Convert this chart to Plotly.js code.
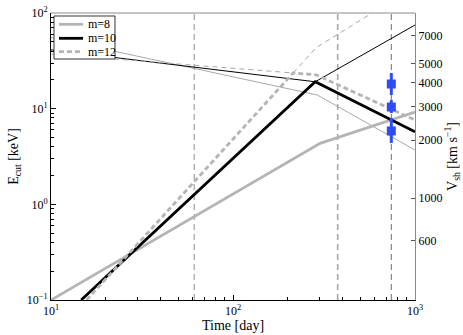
<!DOCTYPE html>
<html><head><meta charset="utf-8">
<script src="https://cdn.plot.ly/plotly-3.0.1.min.js"></script>
<style>html,body{margin:0;padding:0;background:#fff}</style>
</head><body><div id="chart" style="width:463px;height:335px"></div>
<script>
// ---- data ----
const legendNames = ["m=8", "m=10", "m=12"];
// thick curves
const m8ThickDays = [10, 301, 1000];
const m8ThickE = [0.1, 4.34, 9.23];
const m10ThickDays = [14.65, 283, 1000];
const m10ThickE = [0.1, 19.1, 5.74];
const m12ThickDays = [15.7, 214, 286, 1000];
const m12ThickE = [0.1, 23.6, 22.6, 7.61];
// thin curves
const m8ThinDays = [10, 290, 1000];
const m8ThinE = [55.4, 13.9, 3.70];
const m10ThinDays = [10, 283, 1000];
const m10ThinE = [41.2, 19.1, 74.9];
const m12ThinDays = [10, 214, 286, 581];
const m12ThinE = [37.3, 23.6, 43.3, 100];
// vertical dashed epochs
const epochDays = [61.2, 376, 741];
// observed points
const obsDay = 741;
const obsE = [18.1, 10.4, 5.85];
const obsErrUp = [5.5, 1.9, 2.15];
const obsErrDown = [4.2, 1.4, 1.47];
// axis ticks
const xTickVals = [10, 100, 1000];
const xTickText = ["10<sup>1</sup>", "10<sup>2</sup>", "10<sup>3</sup>"];
const yTickVals = [0.1, 1, 10, 100];
const yTickText = ["10<sup>\u22121</sup>", "10<sup>0</sup>", "10<sup>1</sup>", "10<sup>2</sup>"];
const vshTickVals = [600, 1000, 2000, 3000, 4000, 5000, 7000];
const vshRange = [294.3, 9194];

const serif = "'Liberation Serif', 'Times New Roman', Times, serif";
const gray = "#b4b4b4";
const thickStyles = [
  {color: gray, width: 2.8},
  {color: "#000", width: 2.8},
  {color: gray, width: 2.8, dash: "5px,3px"}
];

function minors(lo, hi) {
  const out = [];
  for (let d = lo; d < hi; d *= 10) for (let k = 2; k <= 9; k++) out.push(d * k);
  return out;
}

const traces = [];
// vertical epoch lines
const vColors = ["#8c8c8c", "#a8a8a8", "#707070"];
const vWidths = [1, 1.6, 1];
epochDays.forEach((d, i) => {
  traces.push({x: [d, d], y: [0.1, 100], mode: "lines", showlegend: false, hoverinfo: "skip",
    line: {color: vColors[i], width: vWidths[i], dash: "6px,4px"}});
});
// thin lines
traces.push({x: m8ThinDays, y: m8ThinE, mode: "lines", showlegend: false,
  line: {color: "#a8a8a8", width: 1}});
traces.push({x: m10ThinDays, y: m10ThinE, mode: "lines", showlegend: false,
  line: {color: "#000", width: 1}});
traces.push({x: m12ThinDays, y: m12ThinE, mode: "lines", showlegend: false,
  line: {color: "#a8a8a8", width: 1, dash: "5px,4px"}});
// thick lines
traces.push({x: m8ThickDays, y: m8ThickE, mode: "lines", name: legendNames[0], showlegend: false,
  line: thickStyles[0]});
traces.push({x: m10ThickDays, y: m10ThickE, mode: "lines", name: legendNames[1], showlegend: false,
  line: thickStyles[1]});
traces.push({x: m12ThickDays, y: m12ThickE, mode: "lines", name: legendNames[2], showlegend: false,
  line: thickStyles[2]});
// observations
traces.push({x: [obsDay, obsDay, obsDay], y: obsE, mode: "markers", showlegend: false,
  marker: {symbol: "square", size: 9, color: "#2f4cf5"},
  error_y: {type: "data", symmetric: false, array: obsErrUp, arrayminus: obsErrDown,
    color: "#2f4cf5", thickness: 3, width: 0}});
// invisible trace to carry the right axis
traces.push({x: [xTickVals[0], xTickVals[2]], y: [vshTickVals[0], vshTickVals[6]], yaxis: "y2",
  mode: "lines", line: {width: 0, color: "rgba(0,0,0,0)"}, showlegend: false, hoverinfo: "skip"});

// compact legend drawn in paper coordinates
const shapes = [{type: "line", xref: "x domain", yref: "y domain", x0: 0, x1: 1, y0: 1, y1: 1,
  line: {color: "#8c8c8c", width: 1}},
  {type: "rect", xref: "paper", yref: "paper", x0: 0.0082, x1: 0.1758, y0: 0.8397, y1: 0.9896,
   fillcolor: "#fff", line: {color: "#333", width: 1}, layer: "above"}];
const annotations = [];
const legRowY = [0.9606, 0.9118, 0.8652];
legendNames.forEach((n, i) => {
  shapes.push({type: "line", xref: "paper", yref: "paper", x0: 0.022, x1: 0.088,
    y0: legRowY[i], y1: legRowY[i], line: thickStyles[i], layer: "above"});
  annotations.push({xref: "paper", yref: "paper", x: 0.097, y: legRowY[i], xanchor: "left",
    yanchor: "middle", text: n, showarrow: false, font: {family: serif, size: 12}});
});

const layout = {
  width: 463, height: 335,
  margin: {l: 51, r: 48, t: 13, b: 35},
  paper_bgcolor: "#fff", plot_bgcolor: "#fff",
  font: {family: serif, size: 12, color: "#000"},
  showlegend: false,
  xaxis: {type: "log", range: [1, 3], showgrid: false, zeroline: false,
    showline: true, linecolor: "#000", linewidth: 1,
    tickmode: "array", tickvals: xTickVals, ticktext: xTickText,
    ticks: "inside", ticklen: 5, tickcolor: "#000",
    minor: {tickmode: "array", tickvals: minors(10, 1000), ticks: "inside", ticklen: 3, tickcolor: "#000"},
    tickfont: {family: serif, size: 12},
    title: {text: "Time [day]", font: {family: serif, size: 14}, standoff: 0}},
  yaxis: {type: "log", range: [-1, 2], showgrid: false, zeroline: false,
    showline: true, linecolor: "#000", linewidth: 1,
    tickmode: "array", tickvals: yTickVals, ticktext: yTickText,
    ticks: "inside", ticklen: 5, tickcolor: "#000",
    minor: {tickmode: "array", tickvals: minors(0.1, 100), ticks: "inside", ticklen: 3, tickcolor: "#000"},
    tickfont: {family: serif, size: 12},
    title: {text: "E<sub>cut</sub> [keV]", font: {family: serif, size: 14}, standoff: 4}},
  yaxis2: {type: "log", overlaying: "y", side: "right",
    range: [Math.log10(vshRange[0]), Math.log10(vshRange[1])],
    showgrid: false, zeroline: false, showline: true, linecolor: "#8c8c8c", linewidth: 1,
    tickmode: "array", tickvals: vshTickVals, ticktext: vshTickVals.map(String),
    ticks: "inside", ticklen: 4, tickcolor: "#555",
    tickfont: {family: serif, size: 12},
    title: {text: "V<sub>sh</sub> [km s<sup>\u22121</sup>]", font: {family: serif, size: 14}, standoff: 4}},
  shapes: shapes,
  annotations: annotations
};

Plotly.newPlot("chart", traces, layout, {staticPlot: true, displayModeBar: false});
</script>
</body></html>
